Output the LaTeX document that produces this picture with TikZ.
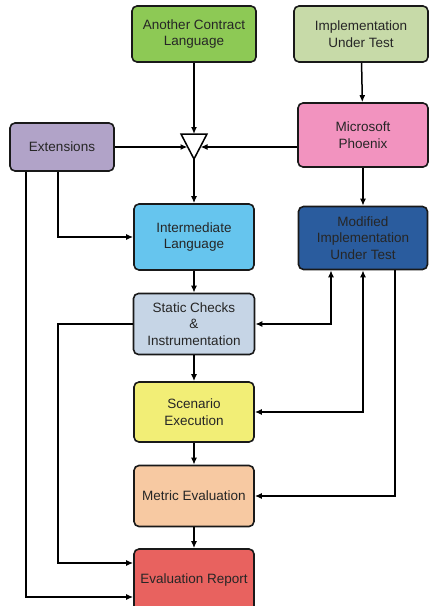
\documentclass[tikz,border=0pt]{standalone}
\usepackage{fontspec}
\setmainfont{Liberation Sans}
\usepackage{tikz}
\usetikzlibrary{arrows, arrows.meta}

\definecolor{aclgreen}{HTML}{8DC955}
\definecolor{iutgreen}{HTML}{C7DAA8}
\definecolor{phxpink}{HTML}{F293BF}
\definecolor{extpurple}{HTML}{B1A3C8}
\definecolor{ilblue}{HTML}{66C5EE}
\definecolor{miutblue}{HTML}{2A5C9E}
\definecolor{scigray}{HTML}{C6D5E6}
\definecolor{seyellow}{HTML}{F2EE76}
\definecolor{meorange}{HTML}{F7C9A2}
\definecolor{erred}{HTML}{E8625F}

\begin{document}
\begin{tikzpicture}[x=1pt, y=-1pt]
\tikzstyle{block}=[draw=black!90, line width=1.6pt, rounded corners=5pt, align=center,
  inner sep=0pt, minimum width=120pt, text=black!85,
  font=\fontsize{13.5}{16.5}\selectfont]
\tikzstyle{link}=[line width=1.5pt, -{Latex[length=7pt, width=6pt]}]
\tikzstyle{both}=[line width=1.5pt, {Latex[length=7pt, width=6pt]}-{Latex[length=7pt, width=6pt]}]
\useasboundingbox (0,0) rectangle (429,606);

\node[block, fill=aclgreen, minimum width=124pt, minimum height=56pt] (acl) at (194,34) {Another Contract\\Language};
\node[block, fill=iutgreen, minimum width=134pt, minimum height=56pt] (iut) at (361,34) {Implementation\\Under Test};
\node[block, fill=phxpink, minimum width=130pt, minimum height=64pt] (phx) at (363,135) {Microsoft\\Phoenix};
\node[block, fill=extpurple, minimum width=104pt, minimum height=48pt] (ext) at (62,147) {Extensions};
\node[block, fill=ilblue, minimum height=66pt] (il) at (194,237) {Intermediate\\Language};
\node[block, fill=miutblue, minimum width=129pt, minimum height=63pt] (miut) at (363,238) {Modified\\Implementation\\Under Test};
\node[block, fill=scigray, minimum width=121pt, minimum height=61pt] (sci) at (194,324) {Static Checks\\\&\\Instrumentation};
\node[block, fill=seyellow, minimum height=60pt] (se) at (194,412) {Scenario\\Execution};
\node[block, fill=meorange, minimum height=61pt] (me) at (194,496) {Metric Evaluation};
\node[block, fill=erred, minimum height=62pt] (er) at (194,580) {Evaluation Report};

% merge point
\coordinate (mt) at (194,134);
\coordinate (mb) at (194,159);
\coordinate (ml) at (187.5,147);
\coordinate (mr) at (200.5,147);
\draw[line width=1.5pt, fill=white] (181,134) -- (207,134) -- (mb) -- cycle;

\coordinate (extA) at ([xshift=17pt]ext.south west);
\coordinate (extB) at ([xshift=49pt]ext.south west);

\path[link]
(acl) edge (mt)
(iut) edge (phx)
(ext) edge (ml)
(phx.west |- mr) edge (mr)
(mb) edge (il)
(phx) edge (miut)
(il) edge (sci)
(sci) edge (se)
(se) edge (me)
(me) edge (er);

\draw[link] (extB) |- (il);
\draw[link] (extA) |- ([yshift=-17pt]er.west);
\draw[link] (sci.west) -- (sci.west -| extB) |- ([yshift=17pt]er.west);

\draw[both] ([xshift=-32pt]miut.south) |- (sci.east);
\draw[both] (miut.south) |- (se.east);
\draw[link] ([xshift=32pt]miut.south) |- (me.east);

\end{tikzpicture}
\end{document}
